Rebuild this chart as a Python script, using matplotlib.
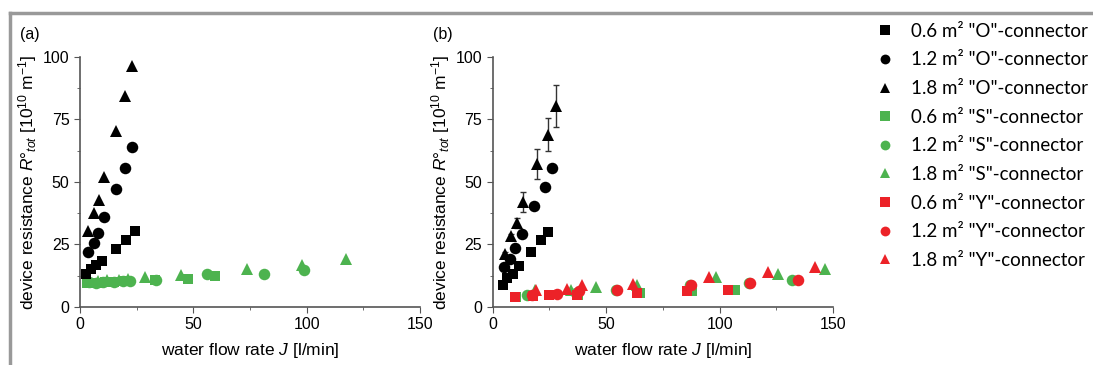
import numpy as np
import matplotlib
matplotlib.use('Agg')
import matplotlib.pyplot as plt
from matplotlib.lines import Line2D

plt.rcParams['font.family'] = ['Liberation Sans', 'DejaVu Sans']
plt.rcParams['mathtext.fontset'] = 'custom'
plt.rcParams['mathtext.rm'] = 'Liberation Sans'
plt.rcParams['mathtext.it'] = 'Liberation Sans:italic'
plt.rcParams['mathtext.bf'] = 'Liberation Sans:bold'

black = 'black'
green = '#4db34f'
red = '#ec2228'

# Panel (a)
a_O06_x = [2.6, 4.7, 6.9, 9.9, 15.7, 20.3, 24.3]
a_O06_y = [13.3, 15.2, 16.7, 18.5, 23.2, 26.9, 30.3]
a_O12_x = [3.7, 6.3, 8.1, 10.7, 15.7, 19.9, 23.1]
a_O12_y = [21.9, 25.6, 29.6, 36.0, 47.2, 55.6, 63.9]
a_O18_x = [3.7, 6.3, 8.2, 10.7, 15.7, 19.9, 23.1]
a_O18_y = [30.3, 37.6, 42.9, 52.0, 70.3, 84.3, 96.3]

a_S06_x = [3, 5, 8, 11, 15, 20, 33, 47.5, 59.6]
a_S06_y = [9.5, 9.4, 9.6, 9.8, 10.0, 10.2, 10.6, 11.3, 12.2]
a_S12_x = [4, 7, 10, 15, 19, 22, 33.5, 56, 81.2, 98.8]
a_S12_y = [9.8, 9.6, 9.8, 9.9, 10.4, 10.2, 10.8, 13.1, 13.3, 14.6]
a_S18_x = [4, 8, 12, 17, 21, 28.7, 44.4, 73.6, 97.8, 117.4]
a_S18_y = [10.2, 10.5, 10.6, 10.8, 11.0, 11.8, 12.7, 15.2, 16.8, 19.2]

# Panel (b)
b_O06_x = [4.7, 6.5, 8.8, 11.5, 16.9, 21.2, 24.3]
b_O06_y = [8.7, 11.6, 13.3, 16.4, 22.0, 26.7, 30.0]
b_O12_x = [5.1, 7.6, 9.6, 12.9, 18.2, 23.1, 26.3]
b_O12_y = [16.0, 19.3, 23.6, 29.3, 40.4, 48.0, 55.6]
b_O18_x = [5.4, 8.1, 10.6, 13.5, 19.4, 24.3, 27.8]
b_O18_y = [21.3, 28.3, 33.6, 42.0, 57.3, 68.9, 80.3]
b_O18_err = [0.5, 1.0, 2.0, 4.0, 6.0, 6.5, 8.3]

b_S06_x = [10.3, 37.5, 65.0, 87.8, 106.9]
b_S06_y = [4.0, 4.7, 5.6, 6.3, 6.9]
b_S12_x = [15.3, 36.5, 54.3, 86.8, 112.8, 131.9]
b_S12_y = [4.7, 5.6, 6.7, 8.7, 9.6, 10.7]
b_S18_x = [18.7, 34.4, 45.4, 63.5, 98.4, 125.7, 146.6]
b_S18_y = [6.9, 6.9, 8.0, 8.7, 12.0, 13.3, 15.3]

b_Y06_x = [9.9, 17.9, 25.0, 37.0, 63.5, 85.6, 103.5]
b_Y06_y = [4.0, 4.3, 4.7, 4.7, 5.6, 6.3, 6.9]
b_Y12_x = [17.2, 28.2, 38.2, 54.7, 87.5, 113.2, 134.4]
b_Y12_y = [4.7, 5.3, 6.3, 6.7, 8.7, 9.6, 10.7]
b_Y18_x = [19.1, 32.9, 39.3, 61.8, 95.4, 121.3, 142.2]
b_Y18_y = [6.7, 7.3, 8.7, 9.3, 12.0, 14.0, 16.0]

labels = ['0.6 m² "O"-connector', '1.2 m² "O"-connector', '1.8 m² "O"-connector',
          '0.6 m² "S"-connector', '1.2 m² "S"-connector', '1.8 m² "S"-connector',
          '0.6 m² "Y"-connector', '1.2 m² "Y"-connector', '1.8 m² "Y"-connector']

ms = {'s': 7.8, 'o': 8.3, '^': 9.3}

fig = plt.figure(figsize=(10.93, 3.65), dpi=100)
ax1 = fig.add_axes([0.0732, 0.159, 0.311, 0.685])
ax2 = fig.add_axes([0.4508, 0.159, 0.3114, 0.685])


def pts(ax, x, y, m, c):
    ax.plot(x, y, ls='none', marker=m, ms=ms[m], color=c, mec=c, mew=0)


pts(ax1, a_S06_x, a_S06_y, 's', green)
pts(ax1, a_S12_x, a_S12_y, 'o', green)
pts(ax1, a_S18_x, a_S18_y, '^', green)
pts(ax1, a_O06_x, a_O06_y, 's', black)
pts(ax1, a_O12_x, a_O12_y, 'o', black)
pts(ax1, a_O18_x, a_O18_y, '^', black)

pts(ax2, b_O06_x, b_O06_y, 's', black)
pts(ax2, b_O12_x, b_O12_y, 'o', black)
ax2.errorbar(b_O18_x, b_O18_y, yerr=b_O18_err, ls='none', ecolor='#333333',
             elinewidth=1, capsize=2.5, capthick=1)
pts(ax2, b_O18_x, b_O18_y, '^', black)
pts(ax2, b_S06_x, b_S06_y, 's', green)
pts(ax2, b_S12_x, b_S12_y, 'o', green)
pts(ax2, b_S18_x, b_S18_y, '^', green)
pts(ax2, b_Y06_x, b_Y06_y, 's', red)
pts(ax2, b_Y12_x, b_Y12_y, 'o', red)
pts(ax2, b_Y18_x, b_Y18_y, '^', red)

ylab = r'device resistance $R$°$_{\it{tot}}$ [10$^{10}$ m$^{-1}$]'
for ax, tag in [(ax1, '(a)'), (ax2, '(b)')]:
    ax.set_xlim(0, 150)
    ax.set_ylim(0, 100)
    ax.set_xticks([0, 50, 100, 150])
    ax.set_xticks([25, 75, 125], minor=True)
    ax.set_yticks([0, 25, 50, 75, 100])
    ax.set_yticks([12.5, 37.5, 62.5, 87.5], minor=True)
    for s in ['top', 'right']:
        ax.spines[s].set_visible(False)
    for s in ['left', 'bottom']:
        ax.spines[s].set_color('#555555')
        ax.spines[s].set_linewidth(1.2)
    ax.tick_params(which='both', direction='out', color='#555555', labelsize=11.5)
    ax.tick_params(which='major', length=4)
    ax.tick_params(which='minor', length=2.5)
    ax.set_xlabel(r'water flow rate $J$ [l/min]', fontsize=12.5, labelpad=6)
    ax.set_ylabel(ylab, fontsize=12.5, labelpad=3)
    ax.text(-0.176, 1.088, tag, transform=ax.transAxes, fontsize=11.5, va='center')

handles = []
for c in [black, green, red]:
    for m in ['s', 'o', '^']:
        handles.append(Line2D([], [], ls='none', marker=m, ms=ms[m] * 0.85, color=c, mew=0))
fig.legend(handles, labels, loc='upper left', bbox_to_anchor=(0.793, 0.958),
           frameon=False, labelspacing=0.62, handletextpad=0.75,
           handlelength=1.2, borderaxespad=0, prop={'family': 'Lato', 'size': 13.5})

# grey frame
fig.add_artist(Line2D([10 / 1093, 1], [1 - 13 / 365, 1 - 13 / 365], color='#999999', lw=2.5))
fig.add_artist(Line2D([10 / 1093, 10 / 1093], [0, 1 - 13 / 365], color='#999999', lw=2.5))

fig.savefig('out.png', dpi=100)
